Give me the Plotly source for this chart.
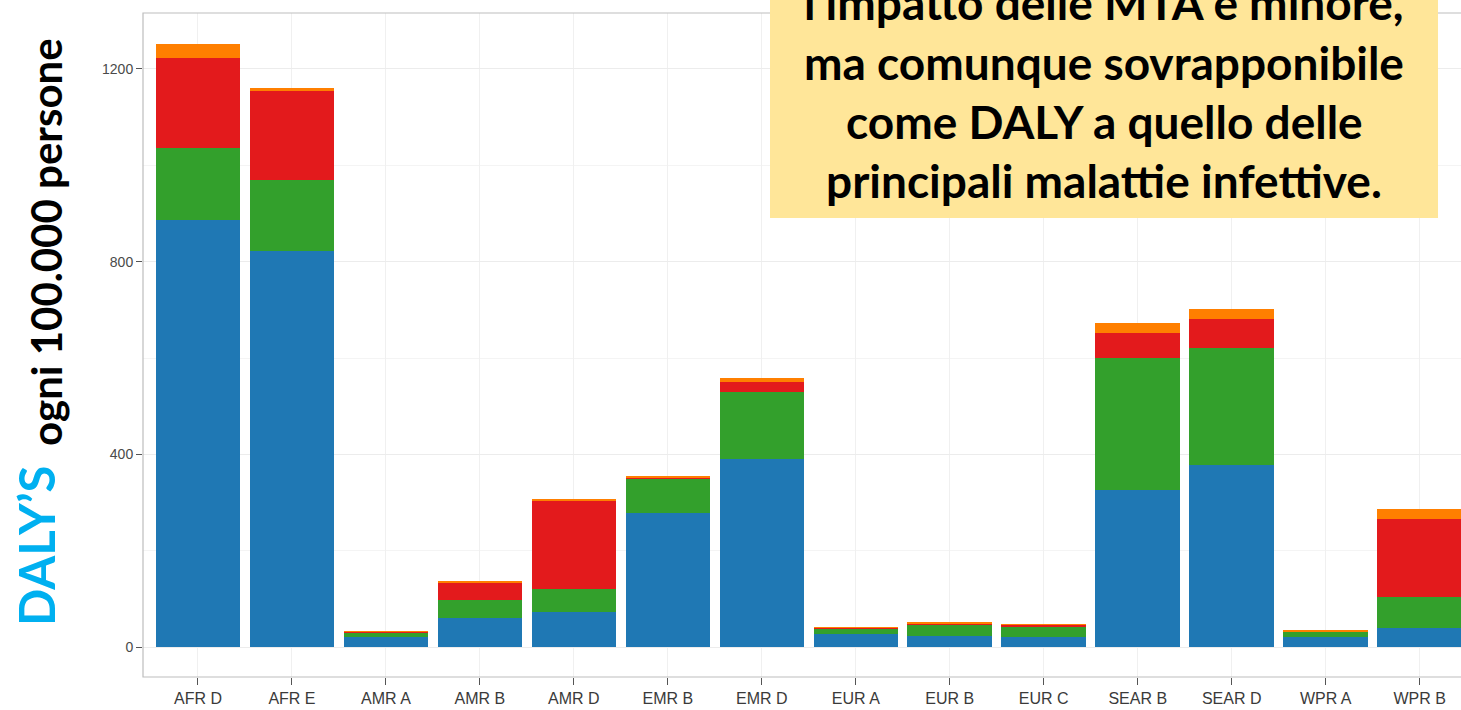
import plotly.graph_objects as go

categories = ["AFR D", "AFR E", "AMR A", "AMR B", "AMR D", "EMR B", "EMR D",
              "EUR A", "EUR B", "EUR C", "SEAR B", "SEAR D", "WPR A", "WPR B"]
blue_vals = [886, 822, 22, 60, 73, 278, 390, 27, 24, 20, 326, 378, 20, 39]
green_vals = [150, 147, 9, 38, 47, 70, 139, 12, 23, 22, 273, 243, 12, 65]
red_vals = [187, 186, 1, 37, 184, 5, 22, 1, 3, 4, 52, 59, 1, 161]
orange_vals = [29, 6, 0.5, 1, 2, 2, 7, 0.5, 1, 1, 21, 21, 0.5, 21]
y_ticks = [0, 400, 800, 1200]

box_lines = ["l’impatto delle MTA è minore,", "ma comunque sovrapponibile",
             "come DALY a quello delle", "principali malattie infettive."]

W, H = 1461, 710
L, R, T, B = 143, 0, 13, 33
pw, ph = W - L - R, H - T - B

def px(x):
    return (x - L) / pw

def py(y):
    return (H - B - y) / ph

fig = go.Figure()
for name, vals, col in [("blue", blue_vals, "#1f78b4"), ("green", green_vals, "#33a02c"),
                        ("red", red_vals, "#e31a1c"), ("orange", orange_vals, "#ff7f00")]:
    fig.add_trace(go.Bar(x=list(range(len(categories))), y=vals, name=name,
                         marker=dict(color=col, line=dict(width=0)), width=0.9))

fig.update_layout(
    barmode="stack", width=W, height=H, showlegend=False,
    margin=dict(l=L, r=R, t=T, b=B),
    plot_bgcolor="white", paper_bgcolor="white",
    xaxis=dict(range=[-0.585, 13.44], tickmode="array", tickvals=list(range(len(categories))),
               ticktext=categories, ticks="outside", ticklen=7, tickcolor="#555", tickwidth=1,
               tickfont=dict(family="Liberation Sans, Arial", size=16, color="#3a3a3a"),
               showgrid=True, gridcolor="#f0f0f0", gridwidth=1, zeroline=False,
               showline=False),
    yaxis=dict(range=[-62, 1316], tickmode="array", tickvals=y_ticks,
               ticks="outside", ticklen=6, tickcolor="#555", tickwidth=1,
               tickfont=dict(family="Liberation Sans, Arial", size=14, color="#4a4a4a"),
               showgrid=True, gridcolor="#ececec", gridwidth=1, zeroline=False,
               minor=dict(tickvals=[200, 600, 1000], showgrid=True, gridcolor="#f4f4f4", gridwidth=1),
               showline=False),
)

# panel border
fig.add_shape(type="rect", xref="paper", yref="paper", x0=0, y0=0, x1=1.05, y1=1,
              line=dict(color="#bdbdbd", width=1.2), fillcolor="rgba(0,0,0,0)", layer="above")

# y title
fig.add_annotation(text="<b>DALY’S</b>", xref="paper", yref="paper", x=px(36), y=py(546),
                   textangle=-90, showarrow=False, xanchor="center", yanchor="middle",
                   font=dict(family="Lato, Open Sans", size=49, color="#00b0f0"))
fig.add_annotation(text="<b>ogni 100.000 persone</b>", xref="paper", yref="paper", x=px(46), y=py(242),
                   textangle=-90, showarrow=False, xanchor="center", yanchor="middle",
                   font=dict(family="Lato, Open Sans", size=42, color="black"))

# yellow text box
fig.add_shape(type="rect", xref="paper", yref="paper", x0=px(770), x1=px(1438), y0=py(218), y1=py(-20),
              line=dict(width=0), fillcolor="#ffe699", layer="above")
for yc, line in zip([2, 62, 121, 180], box_lines):
    fig.add_annotation(text="<b>" + line + "</b>", xref="paper", yref="paper", x=px(1104), y=py(yc),
                       showarrow=False, xanchor="center", yanchor="middle",
                       font=dict(family="Lato, Open Sans", size=46, color="black"))

fig.write_html("out.html", config={"displayModeBar": False},
               post_script="document.body.style.margin='0px';")
